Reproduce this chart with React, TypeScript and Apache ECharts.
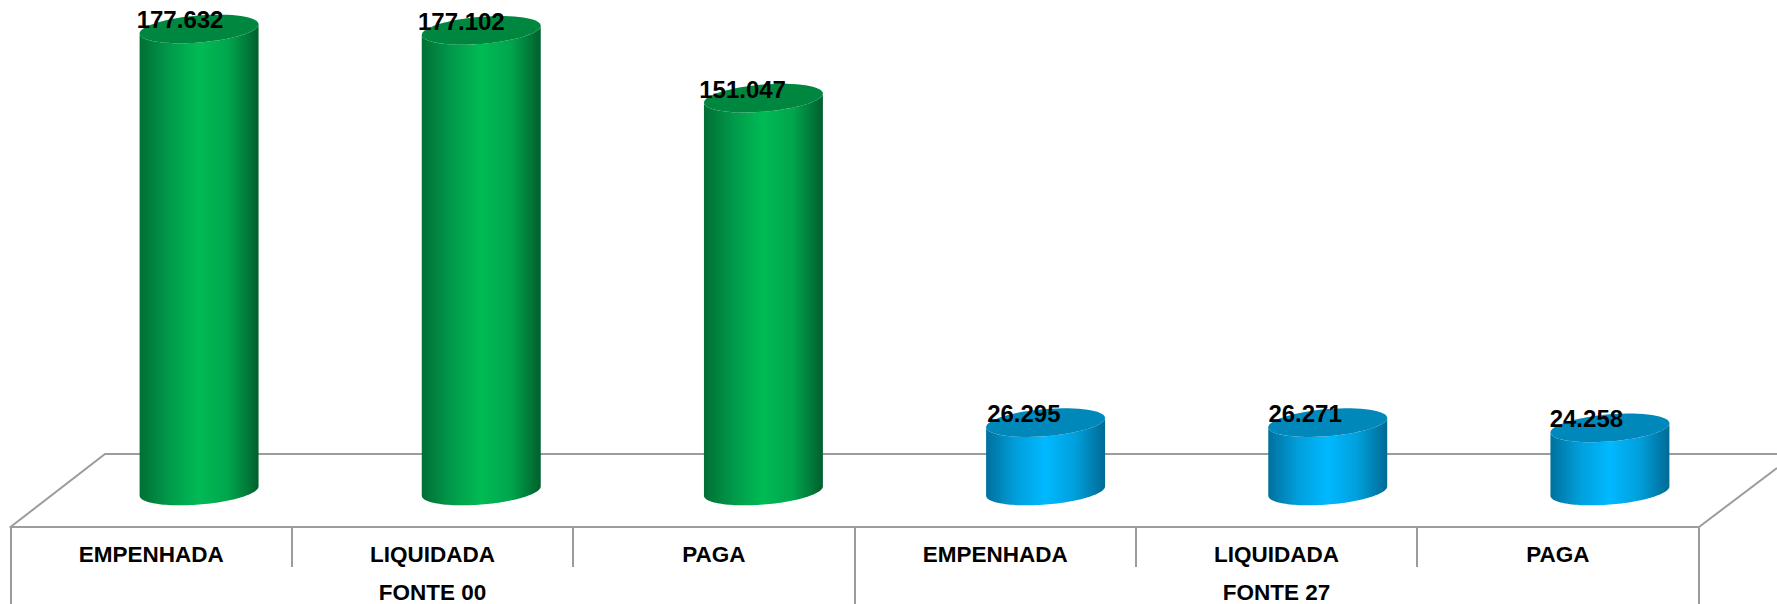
import React, { useEffect, useRef } from "react";
import * as echarts from "echarts";

const categories = ["EMPENHADA", "LIQUIDADA", "PAGA", "EMPENHADA", "LIQUIDADA", "PAGA"];
const groups = ["FONTE 00", "FONTE 27"];
const values = [177.632, 177.102, 151.047, 26.295, 26.271, 24.258];

const FONT = "'Liberation Sans', Arial, sans-serif";
const LINE = "#9c9c9c";
const GREEN = { top: "#00873f", stops: ["#006f35", "#009a4a", "#00bb55", "#00a54d", "#005f2d"] };
const BLUE = { top: "#0088bb", stops: ["#00709d", "#009fdc", "#00b9ff", "#009fdc", "#006a94"] };

function ellipsePoints(cx: number, cy: number, a: number, b: number, tilt: number, from: number, to: number) {
  const pts: number[][] = [];
  const n = 64;
  for (let k = 0; k <= n; k++) {
    const t = from + ((to - from) * k) / n;
    pts.push([cx + a * Math.cos(t), cy - tilt * Math.cos(t) + b * Math.sin(t)]);
  }
  return pts;
}

function renderBar(params: any, api: any) {
  const i = api.value(0);
  const v = api.value(1);
  const top = api.coord([i, v]);
  const base = api.coord([i, 0]);
  const band = api.size([1, 0])[0];
  const a = band * 0.2108;
  const b = a * 0.228;
  const tilt = a * 0.078;
  const c = i < 3 ? GREEN : BLUE;
  const lower = ellipsePoints(base[0], base[1], a, b, tilt, 0, Math.PI);
  const upper = ellipsePoints(top[0], top[1], a, b, tilt, Math.PI, 0);
  const body = lower.concat(upper);
  return {
    type: "group",
    children: [
      {
        type: "polygon",
        shape: { points: body },
        style: {
          fill: {
            type: "linear", x: 0, y: 0, x2: 1, y2: 0,
            colorStops: c.stops.map((color, k) => ({ offset: [0, 0.25, 0.5, 0.75, 1][k], color })),
          },
        },
      },
      {
        type: "polygon",
        shape: { points: ellipsePoints(top[0], top[1], a, b, tilt, 0, Math.PI * 2) },
        style: { fill: c.top },
      },
      {
        type: "text",
        x: top[0] - a * 0.32 - band * 0.0032 * i,
        y: top[1] - 9,
        style: {
          text: v.toFixed(3),
          font: `bold 24px ${FONT}`,
          fill: "#000",
          align: "center",
          verticalAlign: "middle",
        },
      },
    ],
  };
}

export default function App() {
  const ref = useRef<HTMLDivElement>(null);
  useEffect(() => {
    const chart = echarts.init(ref.current!, null, { renderer: "svg" });
    const axisStyle = { lineStyle: { color: LINE, width: 2 } };
    const labelStyle = { interval: 0, fontFamily: FONT, fontWeight: "bold", fontSize: 22.5, color: "#000", lineHeight: 18 };
    chart.setOption({
      animation: false,
      backgroundColor: "#fff",
      grid: [
        { left: 58, top: 22.8, width: 1693, height: 468.2 },
        { left: 10.5, top: 526, width: 1688, height: 1 },
      ],
      xAxis: [
        { type: "category", gridIndex: 0, data: categories, show: false },
        {
          type: "category", gridIndex: 1, data: categories, position: "bottom",
          axisLine: { show: true, onZero: false, ...axisStyle },
          axisTick: { show: true, length: 40, interval: 0, ...axisStyle },
          axisLabel: { ...labelStyle, margin: 18 },
        },
        {
          type: "category", gridIndex: 1, data: groups, position: "bottom",
          axisLine: { show: true, onZero: false, ...axisStyle },
          axisTick: { show: true, length: 77, interval: 0, ...axisStyle },
          axisLabel: { ...labelStyle, margin: 56.5 },
        },
      ],
      yAxis: [
        { type: "value", gridIndex: 0, min: 0, max: 180, show: false },
        { type: "value", gridIndex: 1, show: false },
      ],
      graphic: [
        {
          type: "polyline", z: 0, silent: true,
          shape: { points: [[10.5, 527], [105, 454], [1777, 454]] },
          style: { stroke: LINE, lineWidth: 2, fill: "none" },
        },
        {
          type: "line", z: 0, silent: true,
          shape: { x1: 1699, y1: 527, x2: 1777, y2: 468 },
          style: { stroke: LINE, lineWidth: 2 },
        },
      ],
      series: [
        {
          type: "custom", xAxisIndex: 0, yAxisIndex: 0, z: 5, clip: false,
          encode: { x: 0, y: 1 },
          data: values.map((v, i) => [i, v]),
          renderItem: renderBar,
        },
      ],
    });
    return () => chart.dispose();
  }, []);
  return <div ref={ref} style={{ position: "fixed", left: 0, top: 0, width: 1777, height: 604 }} />;
}
